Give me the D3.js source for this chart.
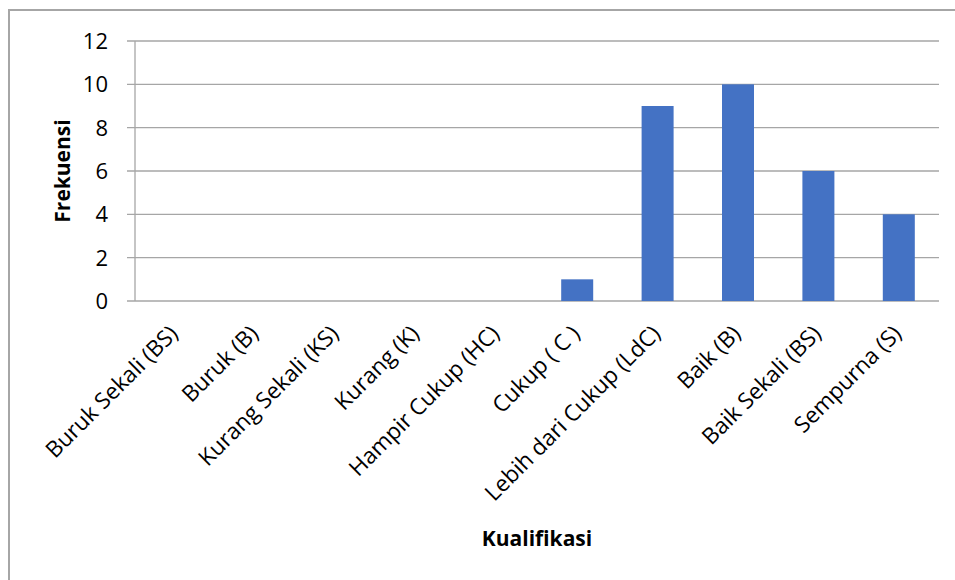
<!DOCTYPE html>
<html><head><meta charset="utf-8">
<script src="https://cdn.jsdelivr.net/npm/d3@7"></script>
<style>body{margin:0;background:#fff}svg{display:block}</style>
</head><body>
<svg id="c" width="955" height="580"></svg>
<script>
const categories = ["Buruk Sekali (BS)","Buruk (B)","Kurang Sekali (KS)","Kurang (K)","Hampir Cukup (HC)","Cukup ( C )","Lebih dari Cukup (LdC)","Baik (B)","Baik Sekali (BS)","Sempurna (S)"];
const values = [0,0,0,0,0,1,9,10,6,4];
const yTicks = [0,2,4,6,8,10,12];

const svg = d3.select("#c");
const font = "'Open Sans', sans-serif";
const gray = "#a6a6a6";
const L = 135, R = 939, T = 41, B = 301;

svg.append("rect").attr("x",9).attr("y",10).attr("width",1000).attr("height",1000)
  .attr("fill","#fff").attr("stroke",gray).attr("stroke-width",2);

const xb = d3.scaleBand().domain(categories).range([L,R]);
const y = d3.scaleLinear().domain([0,12]).range([B,T]);

// gridlines
svg.append("g").selectAll("line").data(yTicks).join("line")
  .attr("x1",L-8).attr("x2",R).attr("y1",d=>y(d)).attr("y2",d=>y(d))
  .attr("stroke",gray).attr("stroke-width",1.3);
svg.append("line").attr("x1",L).attr("x2",L).attr("y1",T).attr("y2",B)
  .attr("stroke",gray).attr("stroke-width",1.3);

// y tick labels
svg.append("g").selectAll("text").data(yTicks).join("text")
  .attr("x",108).attr("y",d=>y(d)).attr("dy","0.36em")
  .attr("text-anchor","end").attr("font-family",font).attr("font-size",22).attr("fill","#000")
  .text(d=>d);

// bars
svg.append("g").selectAll("rect").data(values).join("rect")
  .attr("x",(d,i)=>xb(categories[i])+xb.bandwidth()/2-16)
  .attr("width",32)
  .attr("y",d=>y(d)).attr("height",d=>B-y(d))
  .attr("fill","#4472c4");

// x labels
svg.append("g").selectAll("text").data(categories).join("text")
  .attr("transform",d=>`translate(${xb(d)+xb.bandwidth()/2+4},${B+34}) rotate(-45)`)
  .attr("text-anchor","end")
  .attr("font-family",font).attr("font-size",22.5).attr("fill","#000")
  .text(d=>d);

// axis titles
svg.append("text").attr("transform",`translate(70,${(T+B)/2}) rotate(-90)`)
  .attr("text-anchor","middle").attr("font-family",font).attr("font-size",21).attr("font-weight","bold")
  .text("Frekuensi");
svg.append("text").attr("x",(L+R)/2).attr("y",546)
  .attr("text-anchor","middle").attr("font-family",font).attr("font-size",21).attr("font-weight","bold")
  .text("Kualifikasi");
</script>
</body></html>
